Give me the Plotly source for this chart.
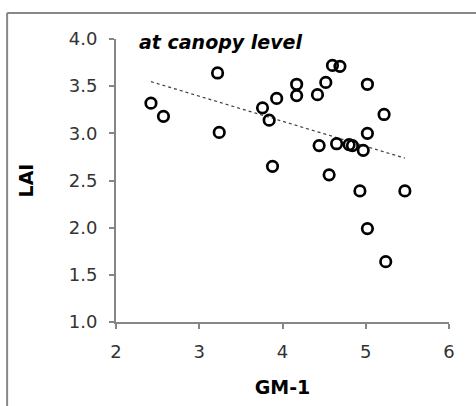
import numpy as np
import plotly.graph_objects as go

gm1 = [2.42, 2.57, 3.22, 3.24, 3.76, 3.84, 3.93, 3.88, 4.17, 4.17, 4.42, 4.52, 4.60, 4.69,
       5.02, 5.22, 5.02, 4.44, 4.65, 4.80, 4.84, 4.97, 4.56, 4.93, 5.47, 5.02, 5.24]
lai = [3.32, 3.18, 3.64, 3.01, 3.27, 3.14, 3.37, 2.65, 3.52, 3.40, 3.41, 3.54, 3.72, 3.71,
       3.52, 3.20, 3.00, 2.87, 2.89, 2.88, 2.87, 2.82, 2.56, 2.39, 2.39, 1.99, 1.64]
x_ticks = [2, 3, 4, 5, 6]
y_ticks = [1.0, 1.5, 2.0, 2.5, 3.0, 3.5, 4.0]
title_text = "at canopy level"

slope, intercept = np.polyfit(gm1, lai, 1)
tx = np.array([min(gm1), max(gm1)])
ty = slope * tx + intercept

fig = go.Figure()
fig.add_trace(go.Scatter(x=tx, y=ty, mode="lines",
                         line=dict(color="#404040", width=1.2, dash="dot"),
                         showlegend=False, hoverinfo="skip"))
fig.add_trace(go.Scatter(x=gm1, y=lai, mode="markers",
                         marker=dict(symbol="circle-open", size=10.5, color="black",
                                     line=dict(width=2.7, color="black")),
                         showlegend=False))

axis_common = dict(showgrid=False, zeroline=False, showline=True, linecolor="#868686",
                   linewidth=2, ticks="outside", ticklen=5, tickwidth=2, tickcolor="#868686",
                   tickfont=dict(family="DejaVu Sans", size=18, color="#333333"))
fig.update_xaxes(range=[2, 6], tickvals=x_ticks, ticktext=[str(v) for v in x_ticks],
                 ticklabelstandoff=7,
                 title=dict(text="GM-1", font=dict(family="DejaVu Sans", size=19, color="black", weight="bold"),
                            standoff=20),
                 **axis_common)
fig.update_yaxes(range=[1, 4], tickvals=y_ticks, ticktext=[f"{v:.1f}" for v in y_ticks],
                 ticklabelstandoff=8,
                 title=dict(text="LAI", font=dict(family="DejaVu Sans", size=19, color="black", weight="bold"),
                            standoff=30),
                 **axis_common)

fig.add_annotation(text=title_text, xref="paper", yref="paper", x=0.063, y=1.035,
                   xanchor="left", yanchor="top", showarrow=False,
                   font=dict(family="DejaVu Sans", size=19, color="black", weight="bold", style="italic"))

# outer frame: only top and left edges are visible in the reference
fig.add_shape(type="line", xref="paper", yref="paper", x0=-0.327, x1=2.0, y0=1.092, y1=1.092,
              line=dict(color="#888888", width=2), layer="below")
fig.add_shape(type="line", xref="paper", yref="paper", x0=-0.327, x1=-0.327, y0=-1.0, y1=1.092,
              line=dict(color="#888888", width=2), layer="below")

fig.update_layout(width=476, height=406, margin=dict(l=116, r=27, t=39, b=84),
                  plot_bgcolor="white", paper_bgcolor="white")
fig.write_html("out.html")
